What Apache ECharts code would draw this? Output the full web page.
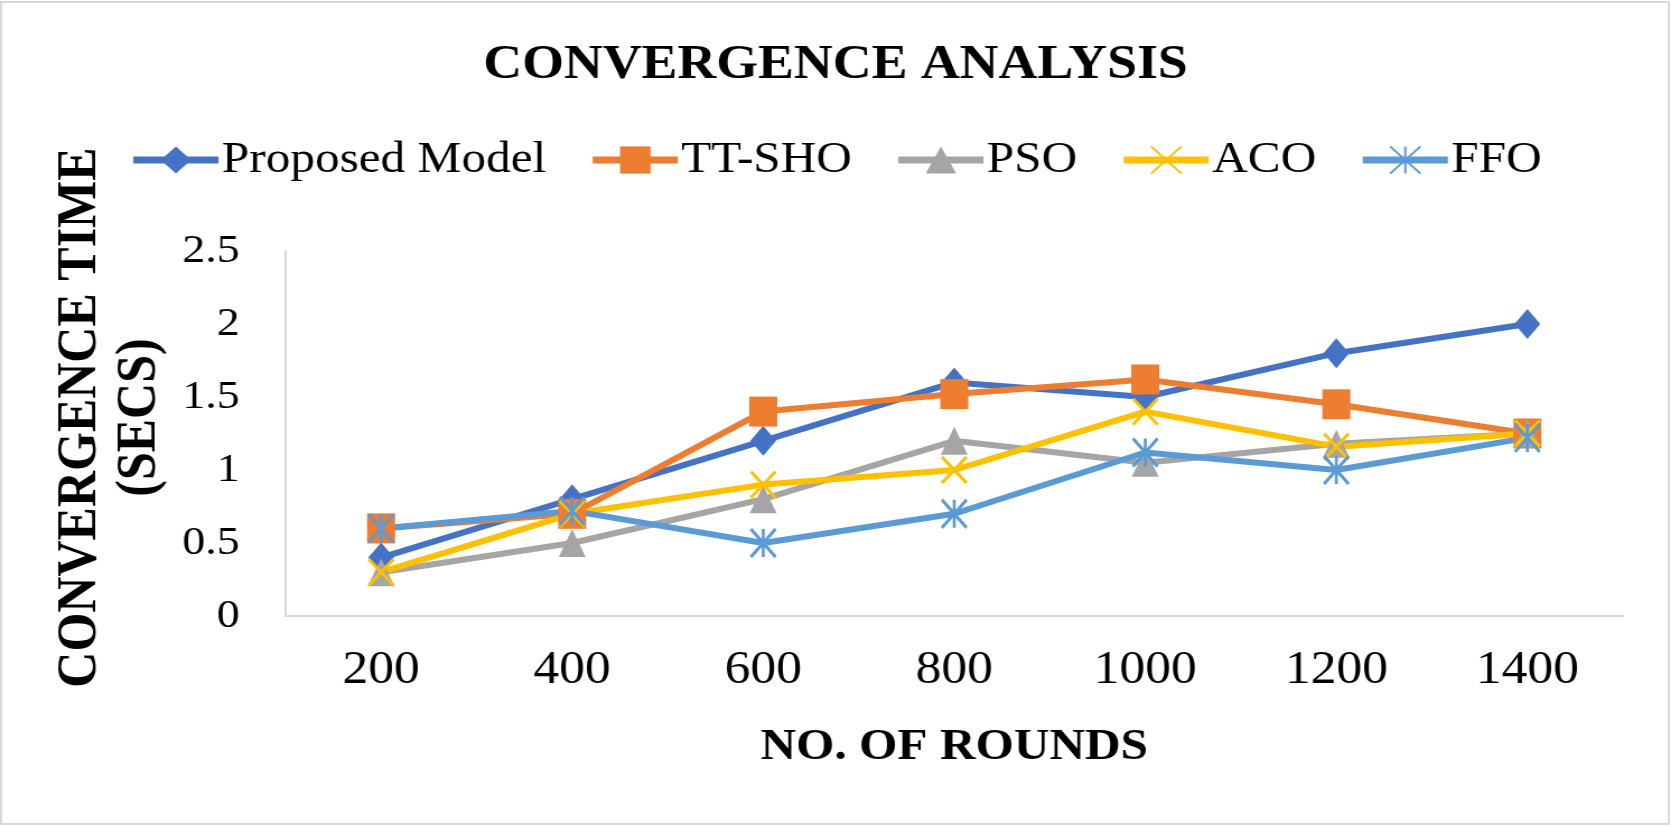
<!DOCTYPE html>
<html>
<head>
<meta charset="utf-8">
<title>Convergence Analysis</title>
<script src="https://cdn.jsdelivr.net/npm/echarts@6/dist/echarts.min.js"></script>
<style>
    html, body { margin: 0; padding: 0; background: #fff; overflow: hidden; }
    /* the source picture is stretched a little sideways, so draw narrower and stretch */
    #chart { width: 1492px; height: 827px; transform: scaleX(1.12); transform-origin: 0 0; }
</style>
</head>
<body>
<div id="chart"></div>
<script>
// data
var rounds = ['200', '400', '600', '800', '1000', '1200', '1400'];
var seriesNames = ['Proposed Model', 'TT-SHO', 'PSO', 'ACO', 'FFO'];
var proposedModel = [0.4, 0.8, 1.2, 1.6, 1.5, 1.8, 2.0];
var ttSho = [0.6, 0.7, 1.4, 1.52, 1.62, 1.45, 1.25];
var pso = [0.3, 0.5, 0.8, 1.2, 1.05, 1.18, 1.25];
var aco = [0.3, 0.7, 0.9, 1.0, 1.4, 1.16, 1.25];
var ffo = [0.6, 0.72, 0.5, 0.7, 1.12, 1.0, 1.22];

var FONT = '"Liberation Serif", "Times New Roman", serif';
var colors = ['#4472C4', '#ED7D31', '#A5A5A5', '#FFC000', '#5B9BD5'];
var symbols = [
    'diamond',
    'rect',
    'triangle',
    'path://M0,0L10,10M10,0L0,10', // x
    'path://M0,0L10,10M10,0L0,10M5,0L5,10' // asterisk
];
var symbolSizes = [[23, 30], [25, 30], [24, 28], [22, 26], [22, 28]];
var allData = [proposedModel, ttSho, pso, aco, ffo];

function makeSeries(i) {
    var stroked = i >= 3; // x and asterisk are drawn as strokes only
    return {
        name: seriesNames[i],
        type: 'line',
        data: allData[i],
        symbol: symbols[i],
        symbolSize: symbolSizes[i],
        showAllSymbol: true,
        lineStyle: { color: colors[i], width: 6 },
        itemStyle: {
            color: stroked ? 'transparent' : colors[i],
            borderColor: colors[i],
            borderWidth: stroked ? 3 : 0
        },
        emphasis: { disabled: true },
        animation: false
    };
}

var series = [];
for (var i = 0; i < seriesNames.length; i++) {
    series.push(makeSeries(i));
}

var myChart = echarts.init(document.getElementById('chart'));
var option = {
    backgroundColor: '#fff',
    color: colors,
    title: {
        text: 'CONVERGENCE ANALYSIS',
        left: 'center',
        top: 37,
        textStyle: { fontFamily: FONT, fontSize: 48, fontWeight: 'bold', color: '#000' }
    },
    legend: {
        data: seriesNames,
        left: 'center',
        top: 133,
        itemWidth: 76,
        itemHeight: 34,
        itemGap: 38,
        lineStyle: { width: 7 },
        textStyle: { fontFamily: FONT, fontSize: 44, color: '#000', padding: [0, 0, 0, -2] }
    },
    grid: {
        left: 255,
        right: 43,
        top: 251,
        bottom: 211,
        containLabel: false
    },
    xAxis: {
        type: 'category',
        data: rounds,
        boundaryGap: true,
        name: 'NO. OF ROUNDS',
        nameLocation: 'middle',
        nameGap: 110,
        nameTextStyle: { fontFamily: FONT, fontSize: 44, fontWeight: 'bold', color: '#000' },
        axisLine: { lineStyle: { color: '#d9d9d9', width: 2 } },
        axisTick: { show: false },
        axisLabel: { fontFamily: FONT, fontSize: 46, color: '#000', margin: 32 },
        splitLine: { show: false }
    },
    yAxis: {
        type: 'value',
        min: 0,
        max: 2.5,
        interval: 0.5,
        name: 'CONVERGENCE TIME\n(SECS)',
        nameLocation: 'middle',
        nameGap: 74,
        nameTextStyle: {
            fontFamily: FONT, fontSize: 50, fontWeight: 'bold', color: '#000',
            lineHeight: 53, padding: [0, 0, 0, 32]
        },
        axisLine: { show: true, lineStyle: { color: '#d9d9d9', width: 2 } },
        axisTick: { show: false },
        axisLabel: { fontFamily: FONT, fontSize: 41, color: '#000', margin: 41 },
        splitLine: { show: false }
    },
    graphic: [{
        type: 'rect',
        shape: { x: 1, y: 2, width: 1489, height: 822 },
        style: { fill: 'none', stroke: '#d9d9d9', lineWidth: 2 },
        silent: true
    }],
    series: series
};
myChart.setOption(option);
</script>
</body>
</html>
